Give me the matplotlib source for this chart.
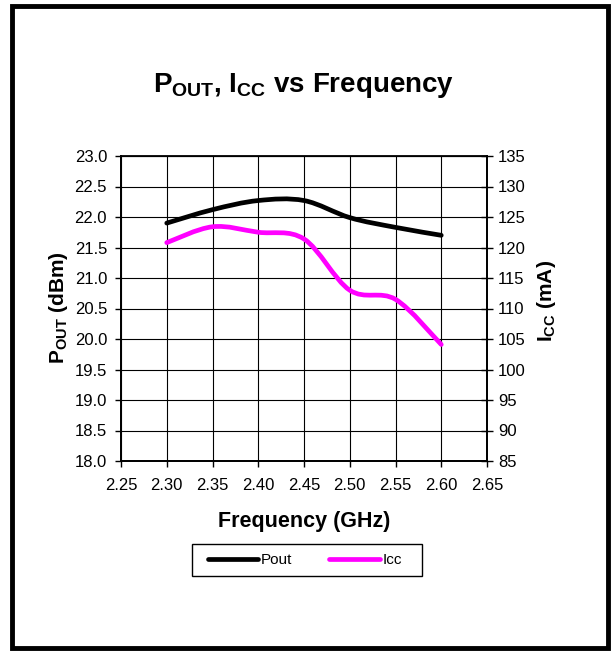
import matplotlib
matplotlib.use('Agg')
import matplotlib.pyplot as plt
import numpy as np
from matplotlib.path import Path
from matplotlib.patches import PathPatch, Rectangle
from matplotlib.lines import Line2D

plt.rcParams['font.family'] = ['Liberation Sans', 'DejaVu Sans']
plt.rcParams['mathtext.fontset'] = 'custom'
plt.rcParams['mathtext.rm'] = 'Liberation Sans'
plt.rcParams['mathtext.bf'] = 'Liberation Sans:bold'
plt.rcParams['mathtext.it'] = 'Liberation Sans:italic'

freq = [2.30, 2.35, 2.40, 2.45, 2.50, 2.55, 2.60]
pout = [21.90, 22.12, 22.27, 22.27, 21.99, 21.83, 21.70]
icc = [120.8, 123.4, 122.5, 121.4, 113.0, 111.5, 104.1]

x_ticks = [2.25, 2.30, 2.35, 2.40, 2.45, 2.50, 2.55, 2.60, 2.65]
y1_ticks = [18.0, 18.5, 19.0, 19.5, 20.0, 20.5, 21.0, 21.5, 22.0, 22.5, 23.0]
y2_ticks = [85, 90, 95, 100, 105, 110, 115, 120, 125, 130, 135]


def smooth_path(xs, ys):
    # excel style smoothed line: cubic bezier through every point
    p = np.column_stack([xs, ys]).astype(float)
    ext = np.vstack([p[0], p, p[-1]])
    verts = [p[0]]
    codes = [Path.MOVETO]
    for i in range(len(p) - 1):
        c1 = ext[i + 1] + (ext[i + 2] - ext[i]) / 6.0
        c2 = ext[i + 2] - (ext[i + 3] - ext[i + 1]) / 6.0
        verts += [c1, c2, ext[i + 2]]
        codes += [Path.CURVE4] * 3
    return Path(verts, codes)


fig = plt.figure(figsize=(6.12, 6.51), dpi=100)
ax = fig.add_axes([121/612, 1-461/651, 366/612, 305/651])
ax2 = ax.twinx()

ax.set_xlim(2.25, 2.65)
ax.set_ylim(18.0, 23.0)
ax2.set_ylim(85, 135)
ax.set_xticks(x_ticks)
ax.set_xticklabels(['%.2f' % t for t in x_ticks])
ax.set_yticks(y1_ticks)
ax.set_yticklabels(['%.1f' % t for t in y1_ticks])
ax2.set_yticks(y2_ticks)
ax2.set_yticklabels([str(t) for t in y2_ticks])

ax.grid(True, color='black', linewidth=0.8)
ax.set_axisbelow(True)
for a in (ax, ax2):
    for s in a.spines.values():
        s.set_linewidth(1.3)
        s.set_color('black')
ax.spines['top'].set_linewidth(0.8)

ax.tick_params(axis='x', labelsize=12, length=4, width=1, direction='out', pad=8)
ax.tick_params(axis='y', labelsize=12, length=4, width=1, direction='out', pad=6)
ax2.tick_params(axis='y', labelsize=12, length=8, width=1, direction='inout', pad=4)

ax2.add_patch(PathPatch(smooth_path(freq, icc), facecolor='none',
                        edgecolor='#FF00FF', linewidth=3.4, capstyle='round', joinstyle='round'))
ax2.add_patch(PathPatch(smooth_path(freq, pout), facecolor='none', transform=ax.transData,
                        edgecolor='black', linewidth=3.4, capstyle='round', joinstyle='round'))

fig.text(304/612, 1-92/651, r'P$_{\mathbf{OUT}}$, I$_{\mathbf{CC}}$ vs Frequency',
         ha='center', va='baseline', fontsize=20, fontweight='bold')
fig.text(304/612, 1-522/651, 'Frequency (GHz)', ha='center', va='center',
         fontsize=15.5, fontweight='bold')
fig.text(58/612, 1-308/651, r'P$_{\mathbf{OUT}}$ (dBm)', ha='center', va='center',
         rotation=90, fontsize=15, fontweight='bold')
fig.text(546/612, 1-301/651, r'I$_{\mathbf{CC}}$ (mA)', ha='center', va='center',
         rotation=90, fontsize=15, fontweight='bold')

# legend box drawn by hand so its size matches
fig.patches.append(Rectangle((192/612, 1-576/651), 230/612, 32/651, transform=fig.transFigure,
                             fill=False, edgecolor='black', linewidth=1.0))
handles = [Line2D([], [], color='black', lw=3.4, solid_capstyle='round'),
           Line2D([], [], color='#FF00FF', lw=3.4, solid_capstyle='round')]
fig.legend(handles, ['Pout', 'Icc'], loc='center', bbox_to_anchor=(305/612, 1-560/651),
           ncol=2, fontsize=11, frameon=False, handlelength=3.3,
           handletextpad=0.2, columnspacing=2.4)

fig.patches.append(Rectangle((12/612, 3/651), 596/612, 642/651, transform=fig.transFigure,
                             fill=False, edgecolor='black', linewidth=3.5))

fig.savefig('out.png', dpi=100)
